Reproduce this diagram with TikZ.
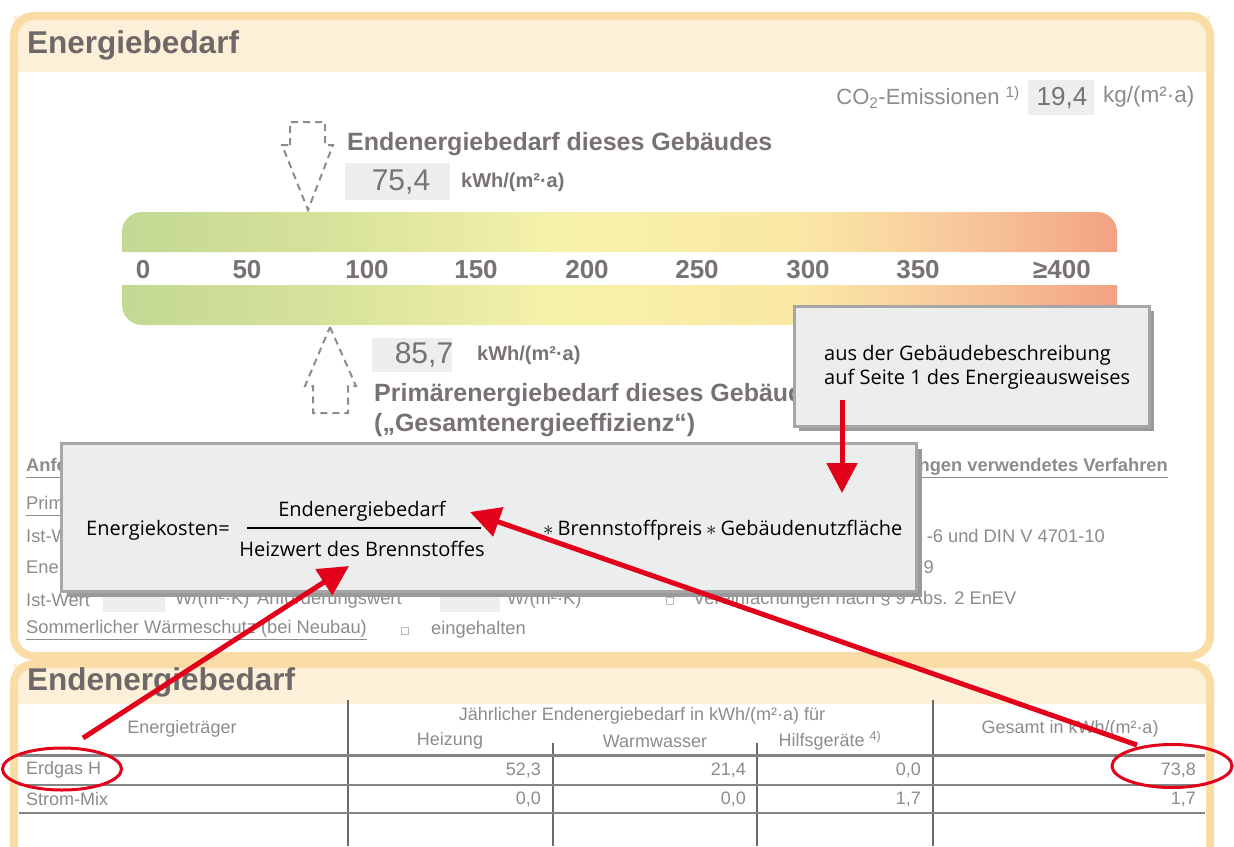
\documentclass[tikz,border=0pt]{standalone}
\usepackage{fontspec}
\setmainfont{Liberation Sans}
\newfontfamily\boxfont{Open Sans}
\usetikzlibrary{arrows.meta,shapes.geometric,calc}
\definecolor{frameor}{HTML}{FADCA6}
\definecolor{bandcr}{HTML}{FDF0D8}
\definecolor{titlegr}{HTML}{6F6868}
\definecolor{labelgr}{HTML}{787272}
\definecolor{txtgr}{HTML}{8C8C8C}
\definecolor{valbox}{HTML}{EEEEEE}
\definecolor{boxfill}{HTML}{ECEDED}
\definecolor{boxline}{HTML}{A6A6A6}
\definecolor{shadowgr}{HTML}{9A9A9A}
\definecolor{redline}{HTML}{E2001A}
\definecolor{tablegr}{HTML}{858585}
\definecolor{barA}{HTML}{C3D893}
\definecolor{barB}{HTML}{D8E39C}
\definecolor{barC}{HTML}{F7F2AA}
\definecolor{barD}{HTML}{FAE8A5}
\definecolor{barE}{HTML}{F8CD9E}
\definecolor{barF}{HTML}{F2A283}
\pgfdeclarehorizontalshading{energybar}{100bp}{color(0bp)=(barA); color(25bp)=(barA); color(36bp)=(barB); color(47bp)=(barC); color(59bp)=(barD); color(66bp)=(barE); color(75bp)=(barF); color(100bp)=(barF)}
\tikzset{
  secttitle/.style={font=\fontsize{31.5}{36}\selectfont\bfseries, text=titlegr, anchor=west, inner sep=0pt},
  biglabel/.style={font=\fontsize{25}{29}\selectfont\bfseries, text=labelgr, anchor=west, inner sep=0pt},
  unitlabel/.style={font=\fontsize{20}{24}\selectfont\bfseries, text=labelgr, anchor=west, inner sep=0pt},
  bigvalue/.style={font=\fontsize{30}{36}\selectfont, text=labelgr, inner sep=0pt},
  scalenum/.style={font=\fontsize{26}{30}\selectfont\bfseries, text=labelgr, inner sep=0pt},
  graytext/.style={font=\fontsize{18.3}{21}\selectfont, text=txtgr, inner sep=0pt},
  tabtext/.style={font=\fontsize{18}{21}\selectfont, text=txtgr, inner sep=0pt},
  dasharrow/.style={draw=txtgr, line width=2pt, dash pattern=on 7pt off 5pt},
  infobox/.style={fill=boxfill, draw=boxline, line width=3pt},
  boxtext/.style={font=\boxfont\fontsize{20}{24}\selectfont, text=black, inner sep=0pt},
  redarrow/.style={draw=redline, line width=5pt, -{Triangle[length=30pt,width=30pt]}},
  redring/.style={ellipse, draw=redline, line width=3pt, inner sep=0pt},
  checkbox/.style={draw=txtgr!60, line width=0.8pt, minimum size=7pt, inner sep=0pt},
  tabline/.style={draw=tablegr, line width=2pt},
  tabvline/.style={draw=tablegr!80!black, line width=1.5pt}
}
\begin{document}
\begin{tikzpicture}[x=1pt,y=-1pt]
\useasboundingbox (0,0) rectangle (1234,846);
\fill[white] (0,0) rectangle (1234,846);

% ---------- section 1 frame ----------
\fill[bandcr] (14,16) rectangle (1210,72);
\draw[frameor, line width=8pt, rounded corners=20pt] (14,16) rectangle (1210,656);
\node[secttitle] (title1) at (27,45) {Energiebedarf};

% CO2
\node[graytext, font=\fontsize{22}{26}\selectfont, anchor=east] (co2) at (1020,97) {CO\textsubscript{2}-Emissionen \textsuperscript{1)}};
\fill[valbox] (1028,80) rectangle (1094,115);
\node[font=\fontsize{26}{30}\selectfont, text=labelgr, inner sep=0pt] (co2val) at (1062,98) {19,4};
\node[graytext, font=\fontsize{22.5}{26}\selectfont, anchor=west] (co2unit) at (1103,97) {kg/(m²·a)};

% Endenergie indicator
\draw[dasharrow] (290,145) -- (290,122) -- (325,122) -- (325,145) -- (333,145) -- (308,210) -- (282,145) -- cycle;
\node[biglabel] (endlabel) at (347,144) {Endenergiebedarf dieses Gebäudes};
\fill[valbox] (345,163) rectangle (450,200);
\node[bigvalue] (endval) at (401,182) {75,4};
\node[unitlabel] (endunit) at (461,182) {kWh/(m²·a)};

% gradient bars
\shade[shading=energybar] (122,252) -- (122,232) arc[start angle=180, end angle=270, radius=20] -- (1097,212) arc[start angle=270, end angle=360, radius=20] -- (1117,252) -- cycle;
\shade[shading=energybar] (122,285) -- (122,305) arc[start angle=180, end angle=90, radius=20] -- (1097,325) arc[start angle=90, end angle=0, radius=20] -- (1117,285) -- cycle;
\node[scalenum] (s0) at (143,270) {0};
\node[scalenum] (s50) at (247,270) {50};
\node[scalenum] (s100) at (367,270) {100};
\node[scalenum] (s150) at (476,270) {150};
\node[scalenum] (s200) at (587,270) {200};
\node[scalenum] (s250) at (697,270) {250};
\node[scalenum] (s300) at (808,270) {300};
\node[scalenum] (s350) at (918,270) {350};
\node[scalenum] (s400) at (1062,270) {≥400};

% Primaerenergie indicator
\draw[dasharrow] (330,327) -- (356,386) -- (348,386) -- (348,413) -- (313,413) -- (313,386) -- (305,386) -- cycle;
\fill[valbox] (372,338) rectangle (452,372);
\node[bigvalue] (primval) at (424,355) {85,7};
\node[unitlabel] (primunit) at (477,355) {kWh/(m²·a)};
\node[biglabel] (primlabel) at (374,395) {Primärenergiebedarf dieses Gebäudes};
\node[biglabel] (primlabel2) at (374,425) {(„Gesamtenergieeffizienz“)};

% background form rows (partly hidden behind the formula box)
\node[graytext, font=\fontsize{18.3}{21}\selectfont\bfseries, anchor=west] (anf) at (26,468) {\underline{Anforderungen gemäß EnEV}};
\node[graytext, font=\fontsize{18.3}{21}\selectfont\bfseries, anchor=east] (verf) at (1168,468) {\underline{Für Energiebedarfsberechnungen verwendetes Verfahren}};
\node[graytext, anchor=west] (prim) at (26,506) {\underline{Primärenergiebedarf}};
\node[graytext, anchor=west] (istw1) at (26,536) {Ist-Wert};
\node[graytext, anchor=east] (din1) at (1105,536) {-6 und DIN V 4701-10};
\node[graytext, anchor=west] (ene) at (26,569) {Energetische Qualität der Gebäudehülle};
\node[graytext, anchor=east] (din2) at (934,567) {9};
\node[graytext, anchor=west] (istw2) at (26,600) {Ist-Wert};
\fill[valbox] (103,588) rectangle (165,612);
\node[graytext, anchor=west] (u1) at (175,600) {W/(m²·K)};
\node[graytext, anchor=west] (anfw) at (257,600) {Anforderungswert};
\fill[valbox] (440,588) rectangle (500,612);
\node[graytext, anchor=west] (u2) at (507,600) {W/(m²·K)};
\node[checkbox] (cb1) at (670,601) {};
\node[graytext, anchor=west] (vereinf) at (693,600) {Vereinfachungen nach § 9 Abs. 2 EnEV};
\node[graytext, anchor=west] (sommer) at (26,630) {\underline{Sommerlicher Wärmeschutz (bei Neubau)}};
\node[checkbox] (cb2) at (405,631) {};
\node[graytext, anchor=west] (eingeh) at (431,630) {eingehalten};

% ---------- section 2 ----------
\fill[white] (14,664) rectangle (1210,880);
\fill[bandcr] (14,664) rectangle (1210,704);
\draw[frameor, line width=8pt, rounded corners=20pt] (14,664) rectangle (1210,900);
\node[secttitle] (title2) at (27,682) {Endenergiebedarf};

\draw[tabvline] (348,700) -- (348,846);
\draw[tabvline] (933,700) -- (933,846);
\draw[tabvline] (553,743) -- (553,846);
\draw[tabvline] (757,743) -- (757,846);
\draw[tabline, line width=3pt] (19,755) -- (1205,755);
\draw[tabline] (19,785) -- (1205,785);
\draw[tabline] (19,813) -- (1205,813);

\node[tabtext] (hEt) at (182,729) {Energieträger};
\node[tabtext] (hJ) at (642,716) {Jährlicher Endenergiebedarf in kWh/(m²·a) für};
\node[tabtext] (hH) at (450,741) {Heizung};
\node[tabtext] (hW) at (655,741) {Warmwasser};
\node[tabtext] (hHg) at (830,741) {Hilfsgeräte \textsuperscript{4)}};
\node[tabtext] (hG) at (1070,729) {Gesamt in kWh/(m²·a)};

\node[tabtext, anchor=west] (erdgas) at (26,770) {Erdgas H};
\node[tabtext, anchor=east] (e1) at (541,770) {52,3};
\node[tabtext, anchor=east] (e2) at (746,770) {21,4};
\node[tabtext, anchor=east] (e3) at (921,770) {0,0};
\node[tabtext, anchor=east] (e4) at (1196,770) {73,8};
\node[tabtext, anchor=west] (strom) at (26,799) {Strom-Mix};
\node[tabtext, anchor=east] (s1) at (541,799) {0,0};
\node[tabtext, anchor=east] (s2) at (746,799) {0,0};
\node[tabtext, anchor=east] (s3) at (921,799) {1,7};
\node[tabtext, anchor=east] (s4) at (1196,799) {1,7};

% ---------- overlay boxes ----------
\fill[shadowgr] (799,311) rectangle (1154,431);
\node[infobox, minimum width=355pt, minimum height=120pt, anchor=north west, inner sep=0pt] (callout) at (793,305) {};
\node[boxtext, align=left, anchor=west] (callouttext) at (824,367) {aus der Gebäudebeschreibung\\auf Seite 1 des Energieausweises};

\fill[shadowgr] (67,449) rectangle (922,597);
\node[infobox, minimum width=855pt, minimum height=148pt, anchor=north west, inner sep=0pt] (formula) at (60,442) {};
\node[boxtext, anchor=west] (ekost) at (86,530) {Energiekosten=};
\node[boxtext] (num) at (362,511) {Endenergiebedarf};
\node[boxtext] (den) at (362,549) {Heizwert des Brennstoffes};
\draw[black, line width=1.5pt] (247,528) -- (481,528);
\node[boxtext, anchor=west] (rest) at (543,530) {$\ast$\hspace{4pt}Brennstoffpreis\hspace{4pt}$\ast$\hspace{4pt}Gebäudenutzfläche};

% ---------- red annotations ----------
\node[redring, minimum width=119pt, minimum height=42pt] (erdring) at (62,769) {};
\node[redring, minimum width=120pt, minimum height=43pt] (totring) at (1172,766) {};
\coordinate (callstart) at (842,400);
\coordinate (calltip) at (842,493);
\coordinate (erdstart) at (83,738);
\coordinate (dentip) at (349,566);
\coordinate (totstart) at (1137,745);
\coordinate (numtip) at (470,512);
\draw[redarrow] (callstart) -- (calltip);
\draw[redarrow] (erdstart) -- (dentip);
\draw[redarrow] (totstart) -- (numtip);
\end{tikzpicture}
\end{document}
